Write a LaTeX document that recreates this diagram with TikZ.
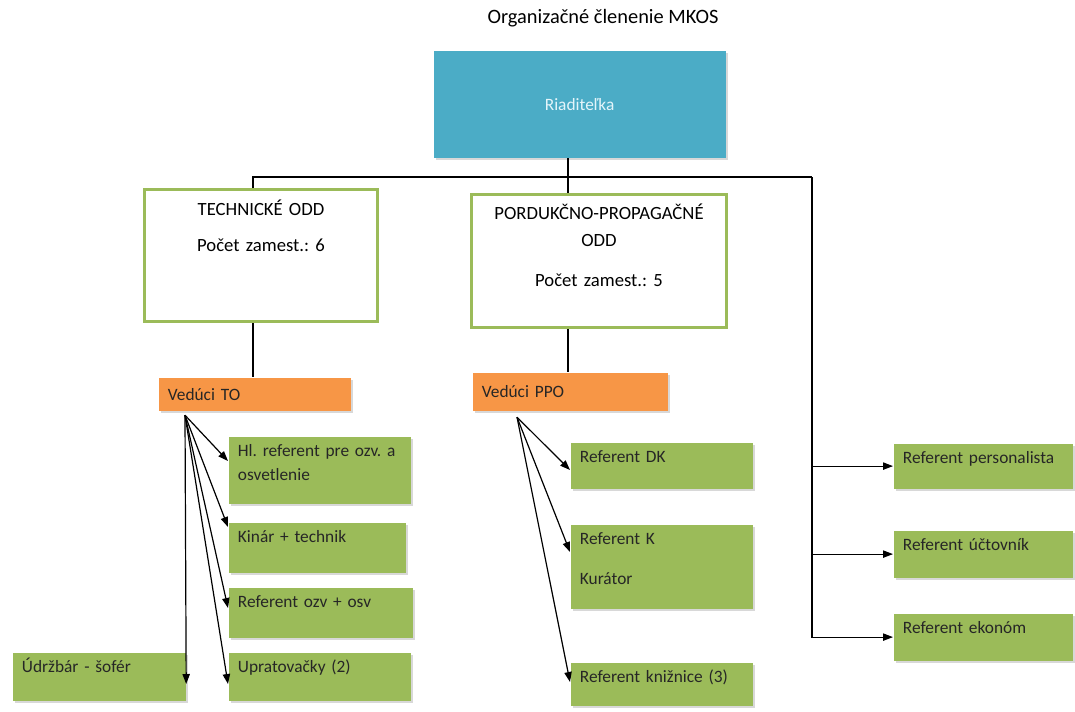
\documentclass[tikz,border=0pt]{standalone}
\usepackage{fontspec}
\setmainfont{Carlito}
\frenchspacing
\usetikzlibrary{arrows.meta, shadows}
\definecolor{dirblue}{HTML}{4BACC6}
\definecolor{dirtext}{HTML}{E4F5FA}
\definecolor{oddgreen}{HTML}{9BBB59}
\definecolor{refgreen}{HTML}{9BBB59}
\definecolor{leadorange}{HTML}{F79646}
\tikzset{
  boxshadow/.style={drop shadow={shadow xshift=1.5pt, shadow yshift=-2pt, fill=black!30, opacity=0.5}},
  headbox/.style={rectangle, anchor=north west, fill=dirblue, text=dirtext, inner sep=0pt, minimum width=219pt, minimum height=80.25pt, boxshadow},
  deptbox/.style={rectangle, anchor=north west, draw=oddgreen, line width=2.25pt, fill=white, inner xsep=6pt, inner ysep=0pt, align=center, font=\fontsize{14}{18}\selectfont},
  leadbox/.style={rectangle, anchor=north west, fill=leadorange, text=black!85, inner xsep=7pt, inner ysep=0pt, align=left, boxshadow},
  refbox/.style={rectangle, anchor=north west, fill=refgreen, text=black!85, inner xsep=7pt, inner ysep=0pt, align=left, text height=15pt, boxshadow},
  arrow/.style={-{Triangle[length=7.5pt,width=5.5pt]}}
}
\begin{document}
\begin{tikzpicture}[x=0.75pt, y=-0.75pt, font=\fontsize{13}{18}\selectfont, line width=0.9pt]
  \useasboundingbox (0,0) rectangle (1075,711);
  \node (title) at (603,18) {\fontsize{15.3}{17}\selectfont Organizačné členenie MKOS};
  \node (dir) [headbox] at (433,50) {Riaditeľka};
  \node (tech) [deptbox, text width=162.75pt, text height=19.5pt, text depth=79.5pt] at (143,188) {TECHNICKÉ ODD\\[9pt]Počet zamest.: 6};
  \node (prod) [deptbox, text width=179.25pt, text height=18.75pt, text depth=81pt] at (470,193) {PORDUKČNO-PROPAGAČNÉ\\[2pt]ODD\\[12pt]Počet zamest.: 5};
  \node (vto) [leadbox, text width=130pt, minimum height=24.75pt] at (158,377) {Vedúci TO};
  \node (vppo) [leadbox, text width=132.25pt, minimum height=28.5pt] at (472,372) {Vedúci PPO};

  % technicke oddelenie
  \node (hl) [refbox, text width=122.5pt, text depth=35.25pt] at (228,436) {Hl. referent pre ozv. a\\osvetlenie};
  \node (kin) [refbox, text width=118.75pt, text depth=22.5pt] at (228,522) {Kinár + technik};
  \node (ozv) [refbox, text width=124pt, text depth=22.5pt] at (228,587) {Referent ozv + osv};
  \node (upr) [refbox, text width=122.5pt, text depth=21pt] at (228,652) {Upratovačky (2)};
  \node (udr) [refbox, text width=115.75pt, text depth=21pt] at (12,652) {Údržbár - šofér};

  % produkcno-propagacne oddelenie
  \node (dk) [refbox, text width=122.5pt, text depth=19.5pt] at (570,442) {Referent DK};
  \node (kur) [refbox, text width=122.5pt, text depth=48pt] at (570,524) {Referent K\\[12pt]Kurátor};
  \node (kniz) [refbox, text width=122.5pt, text depth=17.25pt] at (570,662) {Referent knižnice (3)};

  % priamo pod riaditelkou
  \node (pers) [refbox, text width=120.25pt, text depth=18.75pt] at (893,443) {Referent personalista};
  \node (uct) [refbox, text width=120.25pt, text depth=20.25pt] at (893,530) {Referent účtovník};
  \node (ekon) [refbox, text width=120.25pt, text depth=20.25pt] at (893,613) {Referent ekonóm};

  \coordinate (bus) at (568,177);
  \coordinate (tbus) at (253,177);
  \coordinate (rbus) at (812,177);
  \coordinate (tofan) at ([xshift=20.25pt,yshift=-3pt]vto.south west);
  \coordinate (ppofan) at ([xshift=33.75pt,yshift=-4.5pt]vppo.south west);

  % tree lines
  \draw (dir.south -| bus) -- (prod.north -| bus);
  \draw (tech.north -| tbus) -- (tbus) -- (rbus);
  \draw (tech.south -| tbus) -- (vto.north -| tbus);
  \draw (prod.south -| bus) -- (vppo.north -| bus);
  \draw[arrow] (rbus) |- (ekon.west);
  \draw[arrow] (rbus |- pers.west) -- (pers.west);
  \draw[arrow] (rbus |- uct.west) -- (uct.west);

  % fans
  \draw[arrow] (tofan) -- ([yshift=-18.75pt]hl.north west);
  \draw[arrow] (tofan) -- ([yshift=-3.75pt]kin.north west);
  \draw[arrow] (tofan) -- ([yshift=-15.75pt]ozv.north west);
  \draw[arrow] (tofan) -- ([yshift=-24pt]upr.north west);
  \draw[arrow] (tofan) -- ([yshift=-24pt]udr.north east);
  \draw[arrow] (ppofan) -- ([yshift=-21pt]dk.north west);
  \draw[arrow] (ppofan) -- ([yshift=-21pt]kur.north west);
  \draw[arrow] (ppofan) -- ([yshift=-15pt]kniz.north west);
\end{tikzpicture}
\end{document}
